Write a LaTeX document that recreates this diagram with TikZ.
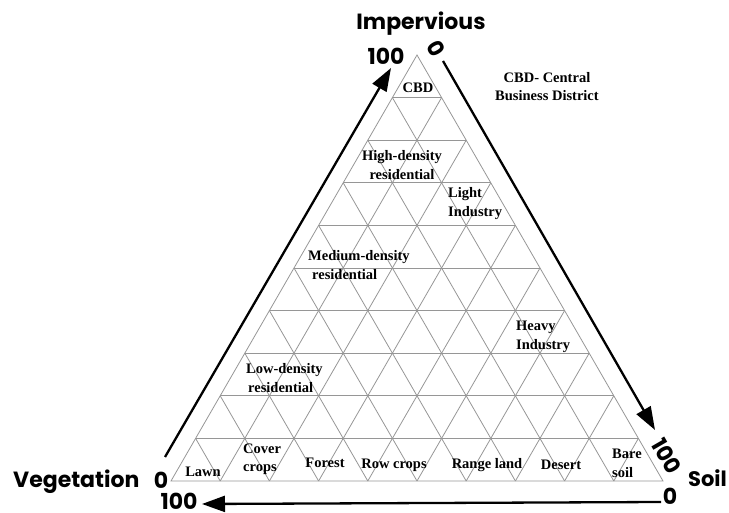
\documentclass[tikz,border=0pt]{standalone}
\usepackage{fontspec}
\setmainfont{Liberation Serif}
\newfontfamily\geo{Poppins}
\usetikzlibrary{arrows.meta,calc}
\definecolor{gridgray}{RGB}{150,150,150}
\begin{document}
\begin{tikzpicture}[x=1pt,y=-1pt,
  grid/.style={draw=gridgray,line width=0.8pt},
  axisarrow/.style={line width=2.3pt,-{Triangle[length=23pt,width=16pt]}},
  zone/.style={font=\fontsize{14.5}{18.5}\selectfont\bfseries,inner sep=0pt},
  axistitle/.style={font=\geo\fontsize{22}{26}\selectfont\bfseries,inner sep=0pt},
]
\useasboundingbox (0,0) rectangle (729,513);
% triangle corners
\coordinate (A) at (171,481);
\coordinate (B) at (663,481);
\coordinate (C) at (417,55);
% grid
\foreach \i in {1,...,9}{
  \draw[grid] ($(A)!\i/10!(C)$) -- ($(B)!\i/10!(C)$);
  \draw[grid] ($(A)!\i/10!(B)$) -- ($(B)!{1-\i/10}!(C)$);
  \draw[grid] ($(A)!\i/10!(B)$) -- ($(A)!\i/10!(C)$);
}
\draw[grid] (A) -- (B) -- (C) -- cycle;
% axis arrows
\coordinate (lv0) at (165,457);
\coordinate (lv1) at (391,68);
\coordinate (rv0) at (443,61);
\coordinate (rv1) at (655,430);
\coordinate (bv0) at (661,502);
\coordinate (bv1) at (202,504);
\draw[axisarrow] (lv0) -- (lv1);
\draw[axisarrow] (rv0) -- (rv1);
\draw[axisarrow] (bv0) -- (bv1);
% axis titles and numbers
\node[axistitle,anchor=base] (imp) at (421,30) {Impervious};
\node[axistitle,anchor=base] (t100) at (386,65) {100};
\node[axistitle,rotate=-60] (t0) at (436,49) {0};
\node[axistitle,anchor=base west] (veg) at (13,487) {Vegetation};
\node[axistitle,anchor=base] (l0) at (161,488) {0};
\node[axistitle,anchor=base] (l100) at (179,509.5) {100};
\node[axistitle,anchor=base west,font=\geo\fontsize{21}{24}\selectfont\bfseries] (soil) at (688,486) {Soil};
\node[axistitle,anchor=base] (r0) at (670,504) {0};
\node[axistitle,rotate=-60] (r100) at (667,456) {100};
% zones
\node[zone] (cbd) at (418,88) {CBD};
\node[zone,align=center] (cbdnote) at (547,86.5) {CBD- Central\\Business District};
\node[zone,align=center] (hdr) at (402,165) {High-density\\residential};
\node[zone,align=left,anchor=west] (li) at (448,203.5) {Light\\Industry};
\node[zone,align=left,anchor=west] (mdr) at (308,265) {Medium-density\\\hspace*{4pt}residential};
\node[zone,align=left,anchor=west] (hi) at (516,337) {Heavy\\Industry};
\node[zone,align=left,anchor=west] (ldr) at (246,378) {Low-density\\\hspace*{2pt}residential};
\node[zone] (lawn) at (203,472) {Lawn};
\node[zone,align=left,anchor=west] (cover) at (243,459) {Cover\\crops};
\node[zone] (forest) at (325,463) {Forest};
\node[zone] (row) at (394,465) {Row crops};
\node[zone] (range) at (487,465) {Range land};
\node[zone] (desert) at (561,465) {Desert};
\node[zone,align=left,anchor=west] (bare) at (612,463.5) {Bare\\soil};
\end{tikzpicture}
\end{document}
